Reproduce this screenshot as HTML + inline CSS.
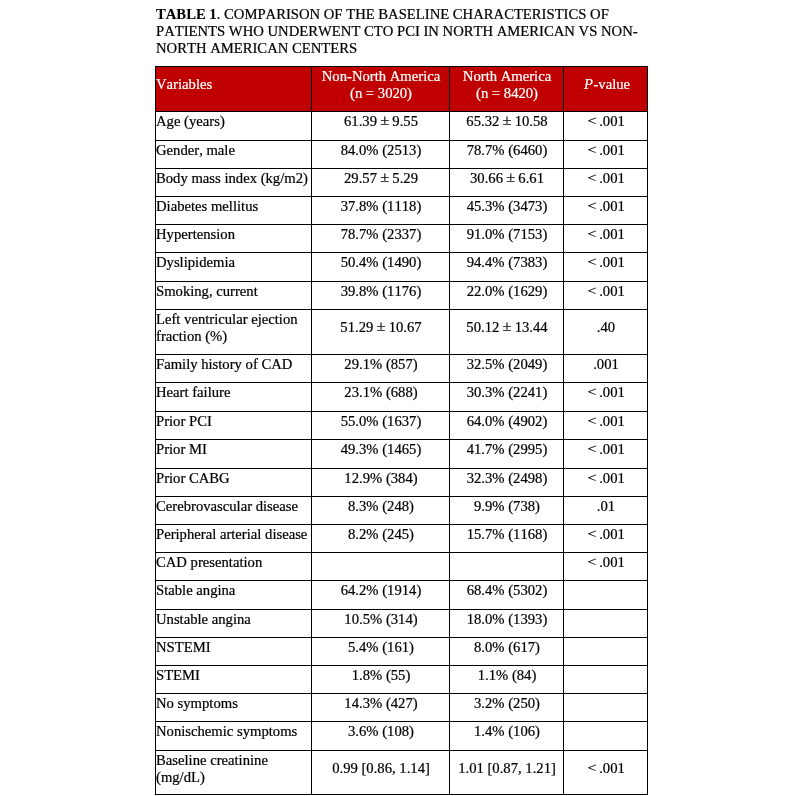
<!DOCTYPE html><html><head><meta charset="utf-8"><title>Table 1</title><style>
html,body{margin:0;padding:0;background:#fff}
#p{position:relative;width:804px;height:796px;overflow:hidden;background:#fff;font-family:"Liberation Serif","Times New Roman",serif;font-size:14.67px;line-height:17px;color:#000;font-kerning:none;font-variant-ligatures:none}
#p div{position:absolute;white-space:nowrap}
.h{left:155px;width:493px;height:1px;background:#000}
.v{top:66px;width:1px;height:729px;background:#000}
.t{will-change:transform;-webkit-text-stroke:0.22px currentColor}
.t b{-webkit-text-stroke:0.1px currentColor}
.c{text-align:center}
.w{color:#fff}
.pm{display:inline-block;font-size:16.5px;line-height:0;margin:0 -0.5px;transform:translateY(-0.5px) scaleY(0.86);transform-origin:50% 100%}
.lt{display:inline-block;transform:translateX(1.2px) scale(1.08,0.86);transform-origin:100% 50%}
</style></head><body><div id="p">
<div style="left:155px;top:66px;width:493px;height:46px;background:#c00000"></div>
<div class="h" style="top:66px"></div>
<div class="h" style="top:111px"></div>
<div class="h" style="top:140px"></div>
<div class="h" style="top:168px"></div>
<div class="h" style="top:196px"></div>
<div class="h" style="top:224px"></div>
<div class="h" style="top:252px"></div>
<div class="h" style="top:281px"></div>
<div class="h" style="top:309px"></div>
<div class="h" style="top:354px"></div>
<div class="h" style="top:382px"></div>
<div class="h" style="top:411px"></div>
<div class="h" style="top:439px"></div>
<div class="h" style="top:468px"></div>
<div class="h" style="top:496px"></div>
<div class="h" style="top:524px"></div>
<div class="h" style="top:552px"></div>
<div class="h" style="top:580px"></div>
<div class="h" style="top:609px"></div>
<div class="h" style="top:637px"></div>
<div class="h" style="top:665px"></div>
<div class="h" style="top:693px"></div>
<div class="h" style="top:721px"></div>
<div class="h" style="top:750px"></div>
<div class="h" style="top:794px"></div>
<div class="v" style="left:155px"></div>
<div class="v" style="left:311px"></div>
<div class="v" style="left:449px"></div>
<div class="v" style="left:563px"></div>
<div class="v" style="left:647px"></div>
<div id="t1" class="t" style="top:6px;left:156.00px;"><span><b>TABLE 1</b>. COMPARISON OF THE BASELINE CHARACTERISTICS OF</span></div>
<div id="t2" class="t" style="top:23px;left:156.00px;"><span>PATIENTS WHO UNDERWENT CTO PCI IN NORTH AMERICAN VS NON-</span></div>
<div id="t3" class="t" style="top:40px;left:156.00px;"><span>NORTH AMERICAN CENTERS</span></div>
<div id="h0" class="t w" style="top:76px;left:156.00px;"><span>Variables</span></div>
<div id="h1a" class="t c w" style="top:68px;left:230.50px;width:300px;"><span>Non-North America</span></div>
<div id="h1b" class="t c w" style="top:85px;left:230.50px;width:300px;"><span>(n = 3020)</span></div>
<div id="h2a" class="t c w" style="top:68px;left:356.50px;width:300px;"><span>North America</span></div>
<div id="h2b" class="t c w" style="top:85px;left:356.50px;width:300px;"><span>(n = 8420)</span></div>
<div id="h3" class="t c w" style="top:76px;left:456.50px;width:300px;"><span><i style="margin-right:0.6px">P</i>-value</span></div>
<div id="r0c0" class="t" style="top:113px;left:156.00px;"><span>Age (years)</span></div>
<div id="r0c1" class="t c" style="top:113px;left:230.50px;width:300px;"><span>61.39 <span class="pm">±</span> 9.55</span></div>
<div id="r0c2" class="t c" style="top:113px;left:356.50px;width:300px;"><span>65.32 <span class="pm">±</span> 10.58</span></div>
<div id="r0c3" class="t c" style="top:113px;left:455.50px;width:300px;"><span><span class="lt">&lt;</span> .001</span></div>
<div id="r1c0" class="t" style="top:142px;left:156.00px;"><span>Gender, male</span></div>
<div id="r1c1" class="t c" style="top:142px;left:230.50px;width:300px;"><span>84.0% (2513)</span></div>
<div id="r1c2" class="t c" style="top:142px;left:356.50px;width:300px;"><span>78.7% (6460)</span></div>
<div id="r1c3" class="t c" style="top:142px;left:455.50px;width:300px;"><span><span class="lt">&lt;</span> .001</span></div>
<div id="r2c0" class="t" style="top:170px;left:156.00px;"><span>Body mass index (kg/m2)</span></div>
<div id="r2c1" class="t c" style="top:170px;left:230.50px;width:300px;"><span>29.57 <span class="pm">±</span> 5.29</span></div>
<div id="r2c2" class="t c" style="top:170px;left:356.50px;width:300px;"><span>30.66 <span class="pm">±</span> 6.61</span></div>
<div id="r2c3" class="t c" style="top:170px;left:455.50px;width:300px;"><span><span class="lt">&lt;</span> .001</span></div>
<div id="r3c0" class="t" style="top:198px;left:156.00px;"><span>Diabetes mellitus</span></div>
<div id="r3c1" class="t c" style="top:198px;left:230.50px;width:300px;"><span>37.8% (1118)</span></div>
<div id="r3c2" class="t c" style="top:198px;left:356.50px;width:300px;"><span>45.3% (3473)</span></div>
<div id="r3c3" class="t c" style="top:198px;left:455.50px;width:300px;"><span><span class="lt">&lt;</span> .001</span></div>
<div id="r4c0" class="t" style="top:226px;left:156.00px;"><span>Hypertension</span></div>
<div id="r4c1" class="t c" style="top:226px;left:230.50px;width:300px;"><span>78.7% (2337)</span></div>
<div id="r4c2" class="t c" style="top:226px;left:356.50px;width:300px;"><span>91.0% (7153)</span></div>
<div id="r4c3" class="t c" style="top:226px;left:455.50px;width:300px;"><span><span class="lt">&lt;</span> .001</span></div>
<div id="r5c0" class="t" style="top:254px;left:156.00px;"><span>Dyslipidemia</span></div>
<div id="r5c1" class="t c" style="top:254px;left:230.50px;width:300px;"><span>50.4% (1490)</span></div>
<div id="r5c2" class="t c" style="top:254px;left:356.50px;width:300px;"><span>94.4% (7383)</span></div>
<div id="r5c3" class="t c" style="top:254px;left:455.50px;width:300px;"><span><span class="lt">&lt;</span> .001</span></div>
<div id="r6c0" class="t" style="top:283px;left:156.00px;"><span>Smoking, current</span></div>
<div id="r6c1" class="t c" style="top:283px;left:230.50px;width:300px;"><span>39.8% (1176)</span></div>
<div id="r6c2" class="t c" style="top:283px;left:356.50px;width:300px;"><span>22.0% (1629)</span></div>
<div id="r6c3" class="t c" style="top:283px;left:455.50px;width:300px;"><span><span class="lt">&lt;</span> .001</span></div>
<div id="r7c0a" class="t" style="top:311px;left:156.00px;"><span>Left ventricular ejection</span></div>
<div id="r7c0b" class="t" style="top:328px;left:156.00px;"><span>fraction (%)</span></div>
<div id="r7c1" class="t c" style="top:319px;left:230.50px;width:300px;"><span>51.29 <span class="pm">±</span> 10.67</span></div>
<div id="r7c2" class="t c" style="top:319px;left:356.50px;width:300px;"><span>50.12 <span class="pm">±</span> 13.44</span></div>
<div id="r7c3" class="t c" style="top:319px;left:455.50px;width:300px;"><span>.40</span></div>
<div id="r8c0" class="t" style="top:356px;left:156.00px;"><span>Family history of CAD</span></div>
<div id="r8c1" class="t c" style="top:356px;left:230.50px;width:300px;"><span>29.1% (857)</span></div>
<div id="r8c2" class="t c" style="top:356px;left:356.50px;width:300px;"><span>32.5% (2049)</span></div>
<div id="r8c3" class="t c" style="top:356px;left:455.50px;width:300px;"><span>.001</span></div>
<div id="r9c0" class="t" style="top:384px;left:156.00px;"><span>Heart failure</span></div>
<div id="r9c1" class="t c" style="top:384px;left:230.50px;width:300px;"><span>23.1% (688)</span></div>
<div id="r9c2" class="t c" style="top:384px;left:356.50px;width:300px;"><span>30.3% (2241)</span></div>
<div id="r9c3" class="t c" style="top:384px;left:455.50px;width:300px;"><span><span class="lt">&lt;</span> .001</span></div>
<div id="r10c0" class="t" style="top:413px;left:156.00px;"><span>Prior PCI</span></div>
<div id="r10c1" class="t c" style="top:413px;left:230.50px;width:300px;"><span>55.0% (1637)</span></div>
<div id="r10c2" class="t c" style="top:413px;left:356.50px;width:300px;"><span>64.0% (4902)</span></div>
<div id="r10c3" class="t c" style="top:413px;left:455.50px;width:300px;"><span><span class="lt">&lt;</span> .001</span></div>
<div id="r11c0" class="t" style="top:441px;left:156.00px;"><span>Prior MI</span></div>
<div id="r11c1" class="t c" style="top:441px;left:230.50px;width:300px;"><span>49.3% (1465)</span></div>
<div id="r11c2" class="t c" style="top:441px;left:356.50px;width:300px;"><span>41.7% (2995)</span></div>
<div id="r11c3" class="t c" style="top:441px;left:455.50px;width:300px;"><span><span class="lt">&lt;</span> .001</span></div>
<div id="r12c0" class="t" style="top:470px;left:156.00px;"><span>Prior CABG</span></div>
<div id="r12c1" class="t c" style="top:470px;left:230.50px;width:300px;"><span>12.9% (384)</span></div>
<div id="r12c2" class="t c" style="top:470px;left:356.50px;width:300px;"><span>32.3% (2498)</span></div>
<div id="r12c3" class="t c" style="top:470px;left:455.50px;width:300px;"><span><span class="lt">&lt;</span> .001</span></div>
<div id="r13c0" class="t" style="top:498px;left:156.00px;"><span>Cerebrovascular disease</span></div>
<div id="r13c1" class="t c" style="top:498px;left:230.50px;width:300px;"><span>8.3% (248)</span></div>
<div id="r13c2" class="t c" style="top:498px;left:356.50px;width:300px;"><span>9.9% (738)</span></div>
<div id="r13c3" class="t c" style="top:498px;left:455.50px;width:300px;"><span>.01</span></div>
<div id="r14c0" class="t" style="top:526px;left:156.00px;"><span>Peripheral arterial disease</span></div>
<div id="r14c1" class="t c" style="top:526px;left:230.50px;width:300px;"><span>8.2% (245)</span></div>
<div id="r14c2" class="t c" style="top:526px;left:356.50px;width:300px;"><span>15.7% (1168)</span></div>
<div id="r14c3" class="t c" style="top:526px;left:455.50px;width:300px;"><span><span class="lt">&lt;</span> .001</span></div>
<div id="r15c0" class="t" style="top:554px;left:156.00px;"><span>CAD presentation</span></div>
<div id="r15c3" class="t c" style="top:554px;left:455.50px;width:300px;"><span><span class="lt">&lt;</span> .001</span></div>
<div id="r16c0" class="t" style="top:582px;left:156.00px;"><span>Stable angina</span></div>
<div id="r16c1" class="t c" style="top:582px;left:230.50px;width:300px;"><span>64.2% (1914)</span></div>
<div id="r16c2" class="t c" style="top:582px;left:356.50px;width:300px;"><span>68.4% (5302)</span></div>
<div id="r17c0" class="t" style="top:611px;left:156.00px;"><span>Unstable angina</span></div>
<div id="r17c1" class="t c" style="top:611px;left:230.50px;width:300px;"><span>10.5% (314)</span></div>
<div id="r17c2" class="t c" style="top:611px;left:356.50px;width:300px;"><span>18.0% (1393)</span></div>
<div id="r18c0" class="t" style="top:639px;left:156.00px;"><span>NSTEMI</span></div>
<div id="r18c1" class="t c" style="top:639px;left:230.50px;width:300px;"><span>5.4% (161)</span></div>
<div id="r18c2" class="t c" style="top:639px;left:356.50px;width:300px;"><span>8.0% (617)</span></div>
<div id="r19c0" class="t" style="top:667px;left:156.00px;"><span>STEMI</span></div>
<div id="r19c1" class="t c" style="top:667px;left:230.50px;width:300px;"><span>1.8% (55)</span></div>
<div id="r19c2" class="t c" style="top:667px;left:356.50px;width:300px;"><span>1.1% (84)</span></div>
<div id="r20c0" class="t" style="top:695px;left:156.00px;"><span>No symptoms</span></div>
<div id="r20c1" class="t c" style="top:695px;left:230.50px;width:300px;"><span>14.3% (427)</span></div>
<div id="r20c2" class="t c" style="top:695px;left:356.50px;width:300px;"><span>3.2% (250)</span></div>
<div id="r21c0" class="t" style="top:723px;left:156.00px;"><span>Nonischemic symptoms</span></div>
<div id="r21c1" class="t c" style="top:723px;left:230.50px;width:300px;"><span>3.6% (108)</span></div>
<div id="r21c2" class="t c" style="top:723px;left:356.50px;width:300px;"><span>1.4% (106)</span></div>
<div id="r22c0a" class="t" style="top:752px;left:156.00px;"><span>Baseline creatinine</span></div>
<div id="r22c0b" class="t" style="top:769px;left:156.00px;"><span>(mg/dL)</span></div>
<div id="r22c1" class="t c" style="top:760px;left:230.50px;width:300px;"><span>0.99 [0.86, 1.14]</span></div>
<div id="r22c2" class="t c" style="top:760px;left:356.50px;width:300px;"><span>1.01 [0.87, 1.21]</span></div>
<div id="r22c3" class="t c" style="top:760px;left:455.50px;width:300px;"><span><span class="lt">&lt;</span> .001</span></div>
</div></body></html>
